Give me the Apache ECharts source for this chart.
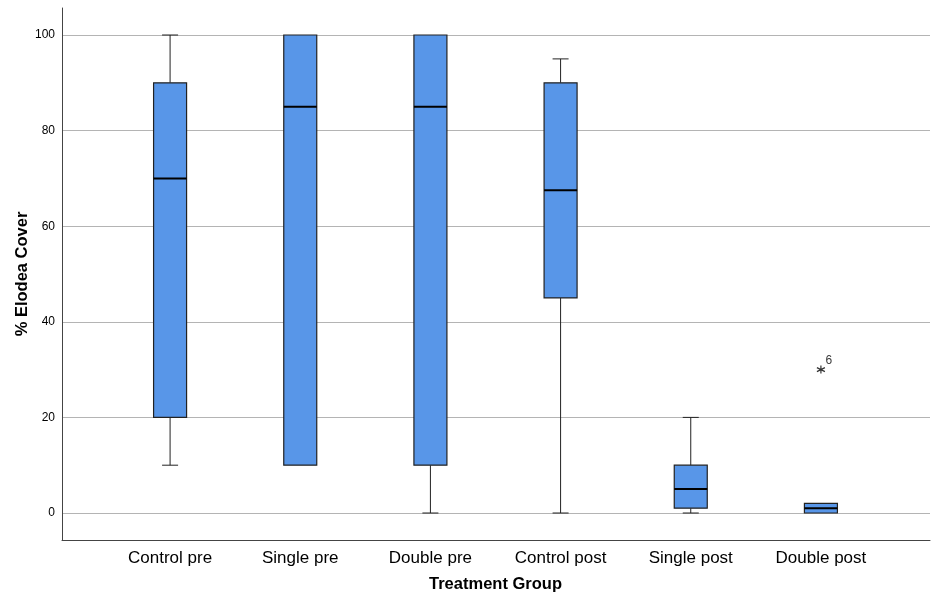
<!DOCTYPE html>
<html>
<head>
<meta charset="utf-8">
<script src="https://cdn.jsdelivr.net/npm/echarts@6/dist/echarts.min.js"></script>
<style>
  html, body { margin: 0; padding: 0; background: #fff; }
  #chart { width: 931px; height: 595px; }
</style>
</head>
<body>
<div id="chart"></div>
<script>
const FONT = "'Liberation Sans', Arial, sans-serif"

const groups = ['Control pre', 'Single pre', 'Double pre', 'Control post', 'Single post', 'Double post']
// [low whisker, Q1, median, Q3, high whisker]
const lowWhisker = [10, 10, 0, 0, 0, 0]
const q1 = [20, 10, 10, 45, 1, 0]
const medians = [70, 85, 85, 67.5, 5, 1]
const q3 = [90, 100, 100, 90, 10, 2]
const highWhisker = [100, 100, 100, 95, 20, 2]
const outliers = [{ group: 5, value: 30, label: '6' }]
const yTicks = [0, 20, 40, 60, 80, 100]

const BOX_FILL = '#5896e8'
const BOX_W = 33
const CAP_W = 16

const boxData = groups.map((g, i) => [i, lowWhisker[i], q1[i], medians[i], q3[i], highWhisker[i]])

function renderBox(params, api) {
  const i = api.value(0)
  const pLow = api.coord([i, api.value(1)])
  const pQ1 = api.coord([i, api.value(2)])
  const pMed = api.coord([i, api.value(3)])
  const pQ3 = api.coord([i, api.value(4)])
  const pHigh = api.coord([i, api.value(5)])
  const x = pMed[0]
  const line = { stroke: '#222', lineWidth: 1 }
  const children = []
  if (pLow[1] - pQ1[1] > 0.5) {
    children.push({ type: 'line', shape: { x1: x, y1: pQ1[1], x2: x, y2: pLow[1] }, style: line })
    children.push({ type: 'line', shape: { x1: x - CAP_W / 2, y1: pLow[1], x2: x + CAP_W / 2, y2: pLow[1] }, style: line })
  }
  if (pQ3[1] - pHigh[1] > 0.5) {
    children.push({ type: 'line', shape: { x1: x, y1: pQ3[1], x2: x, y2: pHigh[1] }, style: line })
    children.push({ type: 'line', shape: { x1: x - CAP_W / 2, y1: pHigh[1], x2: x + CAP_W / 2, y2: pHigh[1] }, style: line })
  }
  children.push({
    type: 'rect',
    shape: { x: x - BOX_W / 2, y: pQ3[1], width: BOX_W, height: pQ1[1] - pQ3[1] },
    style: { fill: BOX_FILL, stroke: '#222', lineWidth: 1.2 }
  })
  children.push({
    type: 'line',
    shape: { x1: x - BOX_W / 2, y1: pMed[1], x2: x + BOX_W / 2, y2: pMed[1] },
    style: { stroke: '#000', lineWidth: 2 }
  })
  return { type: 'group', children }
}

const chart = echarts.init(document.getElementById('chart'))
chart.setOption({
  animation: false,
  grid: [
    { left: 62, right: 1, top: 8, bottom: 55, outerBoundsMode: 'none', containLabel: false },
    { left: 62, right: 1, top: 35, bottom: 82, outerBoundsMode: 'none', containLabel: false },
    { left: 105, right: 45, top: 35, bottom: 82, outerBoundsMode: 'none', containLabel: false }
  ],
  xAxis: [
    {
      gridIndex: 0, type: 'value', min: 0, max: 1,
      axisLine: { show: true, lineStyle: { color: '#444', width: 1 } },
      axisTick: { show: false }, axisLabel: { show: false }, splitLine: { show: false }
    },
    {
      gridIndex: 1, type: 'value', min: 0, max: 1, show: false
    },
    {
      gridIndex: 2, type: 'category', data: groups,
      axisLine: { show: false }, axisTick: { show: false }, splitLine: { show: false },
      axisLabel: { margin: 37, fontFamily: FONT, fontSize: 17, color: '#000' },
      name: 'Treatment Group', nameLocation: 'middle', nameGap: 63, nameMoveOverlap: false,
      nameTextStyle: { fontFamily: FONT, fontSize: 16.5, fontWeight: 'bold', color: '#000' }
    }
  ],
  yAxis: [
    {
      gridIndex: 0, type: 'value', min: 0, max: 1,
      axisLine: { show: true, lineStyle: { color: '#444', width: 1 } },
      axisTick: { show: false }, axisLabel: { show: false }, splitLine: { show: false }
    },
    {
      gridIndex: 1, type: 'value', min: yTicks[0], max: yTicks[yTicks.length - 1], interval: 20,
      axisLine: { show: false }, axisTick: { show: false },
      axisLabel: { margin: 7, fontFamily: FONT, fontSize: 12, color: '#000' },
      splitLine: { show: true, lineStyle: { color: '#b4b4b4', width: 1 } },
      name: '% Elodea Cover', nameLocation: 'middle', nameGap: 31, nameMoveOverlap: false,
      nameTextStyle: { fontFamily: FONT, fontSize: 16.5, fontWeight: 'bold', color: '#000' }
    },
    {
      gridIndex: 2, type: 'value', min: yTicks[0], max: yTicks[yTicks.length - 1], show: false
    }
  ],
  series: [
    {
      type: 'custom', xAxisIndex: 2, yAxisIndex: 2,
      renderItem: renderBox, data: boxData
    },
    {
      type: 'scatter', xAxisIndex: 2, yAxisIndex: 2,
      symbol: 'path://M0,-5L0,5M-4.33,-2.5L4.33,2.5M-4.33,2.5L4.33,-2.5',
      symbolSize: 8,
      itemStyle: { color: 'none', borderColor: '#000', borderWidth: 1.2 },
      data: outliers.map(o => ({ value: [o.group, o.value], name: o.label })),
      label: {
        show: true, formatter: p => p.name, position: [11, -8],
        fontFamily: FONT, fontSize: 12, color: '#000'
      }
    }
  ]
})
</script>
</body>
</html>
